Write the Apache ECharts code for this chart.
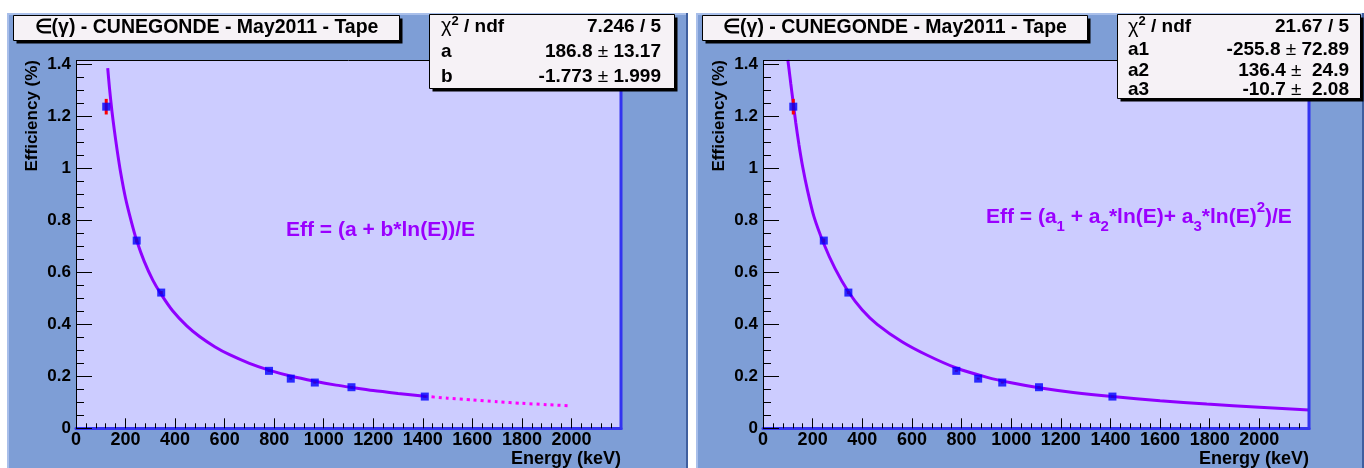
<!DOCTYPE html>
<html><head><meta charset="utf-8">
<script src="https://cdn.jsdelivr.net/npm/echarts@6/dist/echarts.min.js"></script>
<style>html,body{margin:0;padding:0;background:#fff}#c{width:1364px;height:468px}</style>
</head><body><div id="c"></div>
<script>
// ---------- data ----------
const titleText = '\u2208(\u03B3) - CUNEGONDE - May2011 - Tape';
const xAxisName = 'Energy (keV)';
const yAxisName = 'Efficiency (%)';
const xTickInterval = 200;
const yTickInterval = 0.2;

// measured points (keV, %)
const energies   = [122, 245, 344, 779, 867, 964, 1112, 1408];
const efficiency = [1.237, 0.722, 0.522, 0.221, 0.191, 0.176, 0.158, 0.122];
const effErrors  = [0.030, 0.008, 0.006, 0.004, 0.004, 0.004, 0.004, 0.004];

// left fit curve
const fitLeftE   = [128, 135, 145, 155, 166, 180, 200, 222, 245, 275, 310, 344, 390, 446, 500, 560, 620, 700, 779, 870, 964, 1050, 1112, 1200, 1300, 1408];
const fitLeftEff = [1.385, 1.31, 1.22, 1.145, 1.07, 0.985, 0.885, 0.80, 0.722, 0.643, 0.57, 0.515, 0.452, 0.395, 0.352, 0.314, 0.283, 0.250, 0.224, 0.200, 0.181, 0.166, 0.157, 0.145, 0.134, 0.123];
// left extrapolation (dotted)
const extLeftE   = [1408, 1500, 1600, 1700, 1800, 1900, 2000];
const extLeftEff = [0.123, 0.116, 0.109, 0.102, 0.096, 0.091, 0.086];

// right fit curve
const fitRightE   = [100, 105, 112, 120, 132, 145, 160, 180, 205, 245, 290, 344, 400, 460, 560, 660, 779, 900, 1000, 1112, 1250, 1408, 1600, 1788, 2000, 2200];
const fitRightEff = [1.417, 1.38, 1.325, 1.265, 1.175, 1.09, 1.005, 0.912, 0.815, 0.71, 0.615, 0.525, 0.455, 0.40, 0.333, 0.282, 0.232, 0.197, 0.175, 0.156, 0.138, 0.122, 0.106, 0.093, 0.081, 0.070];

// stats boxes
const statsLeftLabels  = ['chi', 'a', 'b'];
const statsLeftValues  = [['7.246 / 5'], ['186.8', '13.17'], ['-1.773', '1.999']];
const statsRightLabels = ['chi', 'a1', 'a2', 'a3'];
const statsRightValues = [['21.67 / 5'], ['-255.8', '72.89'], ['136.4', ' 24.9'], ['-10.7', ' 2.08']];

// ---------- style ----------
const FONT = '"Liberation Sans", Arial, Helvetica, sans-serif';
const PANEL = '#7e9ed6';
const PLOTBG = '#ccccff';
const BOXBG = '#f6f2f6';
const FRAMEBLUE = '#3333f0';
const FITCOL = '#8f00ff';
const TEXTPURPLE = '#9a00ff';

const chart = echarts.init(document.getElementById('c'), null, {renderer: 'canvas'});

const plots = [
  {left: 76, width: 545},
  {left: 763, width: 546}
];
const plotTop = 64.3, plotBottom = 428.3, frameTop = 60;

function pts(xs, ys) { return xs.map((x, i) => [x, ys[i]]); }

function xAxisCfg(i) {
  return {
    gridIndex: i, type: 'value', min: 0, max: 2200, interval: xTickInterval,
    axisLine: {show: true, onZero: false, lineStyle: {color: FRAMEBLUE, width: 3}},
    axisTick: {show: true, inside: true, length: 10, lineStyle: {color: '#000', width: 1}},
    minorTick: {show: true, splitNumber: 5, length: 5, lineStyle: {color: '#000', width: 1}},
    splitLine: {show: false},
    axisLabel: {show: true, showMaxLabel: false, color: '#000', fontSize: 18, fontWeight: 'bold', fontFamily: FONT, margin: 3,
      formatter: v => String(v)}
  };
}
function yAxisCfg(i) {
  return {
    gridIndex: i, type: 'value', min: 0, max: 1.4, interval: yTickInterval,
    axisLine: {show: true, lineStyle: {color: '#000', width: 1}},
    axisTick: {show: true, inside: true, length: 16, lineStyle: {color: '#000', width: 1}},
    minorTick: {show: true, splitNumber: 4, length: 8, lineStyle: {color: '#000', width: 1}},
    splitLine: {show: false},
    axisLabel: {show: true, color: '#000', fontSize: 17, fontWeight: 'bold', fontFamily: FONT, margin: 5,
      formatter: v => String(+v.toFixed(1))}
  };
}

function errorSeries(i) {
  return {
    type: 'custom', xAxisIndex: i, yAxisIndex: i, z: 3,
    data: energies.map((e, k) => [e, efficiency[k], effErrors[k]]),
    renderItem: function (params, api) {
      const x = api.value(0), y = api.value(1), e = api.value(2);
      const a = api.coord([x, y + e]), b = api.coord([x, y - e]);
      return {type: 'line', shape: {x1: a[0], y1: a[1], x2: b[0], y2: b[1]}, style: {stroke: '#ff0000', lineWidth: 3}};
    }
  };
}
function pointSeries(i) {
  return {
    type: 'scatter', xAxisIndex: i, yAxisIndex: i, z: 4,
    symbol: 'rect', symbolSize: 8,
    itemStyle: {color: '#0000ff', borderWidth: 0},
    data: pts(energies, efficiency)
  };
}

// ---------- decorations ----------
const graphics = [];
function panel(x0, x1) {
  graphics.push({type: 'rect', shape: {x: x0, y: 13, width: x1 - x0, height: 455}, style: {fill: PANEL}, z: -10});
  graphics.push({type: 'line', shape: {x1: x0 + 1, y1: 13, x2: x0 + 1, y2: 468}, style: {stroke: '#a9bfea', lineWidth: 2}, z: -9});
  graphics.push({type: 'line', shape: {x1: x0, y1: 14, x2: x1, y2: 14}, style: {stroke: '#a9bfea', lineWidth: 2}, z: -9});
  graphics.push({type: 'line', shape: {x1: x1 - 1, y1: 13, x2: x1 - 1, y2: 468}, style: {stroke: '#3f5f9f', lineWidth: 2}, z: -9});
}
panel(7, 688);
panel(696, 1364);

plots.forEach(p => {
  const r = p.left + p.width;
  graphics.push({type: 'rect', shape: {x: p.left, y: frameTop, width: p.width, height: plotBottom - frameTop}, style: {fill: PLOTBG}, z: -5});
  graphics.push({type: 'line', shape: {x1: p.left, y1: frameTop + 0.5, x2: r, y2: frameTop + 0.5}, style: {stroke: '#000', lineWidth: 1}, z: 5});
  graphics.push({type: 'line', shape: {x1: p.left + 0.5, y1: frameTop, x2: p.left + 0.5, y2: plotTop}, style: {stroke: '#000', lineWidth: 1}, z: 5});
  graphics.push({type: 'line', shape: {x1: r, y1: frameTop, x2: r, y2: plotBottom + 1.5}, style: {stroke: FRAMEBLUE, lineWidth: 3}, z: 5});
  // axis titles
  graphics.push({type: 'text', x: p.left - 44, y: frameTop, rotation: Math.PI / 2, z: 6,
    style: {text: yAxisName, x: 0, y: 0, align: 'right', verticalAlign: 'middle', fill: '#000', font: 'bold 17px ' + FONT}});
  graphics.push({type: 'text', x: r, y: 459, z: 6,
    style: {text: xAxisName, x: 0, y: 0, align: 'right', verticalAlign: 'middle', fill: '#000', font: 'bold 18px ' + FONT}});
});

function box(x, y, w, h) {
  graphics.push({type: 'rect', shape: {x: x + 3, y: y + 3, width: w, height: h}, style: {fill: '#000'}, z: 7});
  graphics.push({type: 'rect', shape: {x: x, y: y, width: w, height: h}, style: {fill: BOXBG, stroke: '#000', lineWidth: 1}, z: 8});
}
// title boxes
box(13.5, 15.5, 386, 25);
box(702.5, 15.5, 385, 25);
graphics.push({type: 'text', x: 206.5, y: 28, z: 9, style: {text: titleText, align: 'center', verticalAlign: 'middle', fill: '#000', font: 'bold 19.5px ' + FONT}});
graphics.push({type: 'text', x: 895, y: 28, z: 9, style: {text: titleText, align: 'center', verticalAlign: 'middle', fill: '#000', font: 'bold 19.5px ' + FONT}});

// stats boxes
const richStats = {
  b: {fontFamily: FONT, fontWeight: 'bold', fontSize: 19, fill: '#000', lineHeight: 24},
  chi: {fontFamily: FONT, fontWeight: 'normal', fontSize: 20, fill: '#000', lineHeight: 24},
  sup: {fontFamily: FONT, fontWeight: 'bold', fontSize: 13, fill: '#000', lineHeight: 13, verticalAlign: 'top'},
  pm: {fontFamily: FONT, fontWeight: 'normal', fontSize: 19, fill: '#000', lineHeight: 24}
};
function statsBox(x, y, w, h, labels, values, rows, lx, rx) {
  box(x, y, w, h);
  labels.forEach((lab, k) => {
    const txt = lab === 'chi' ? '{chi|\u03C7}{sup|2}{b| / ndf}' : '{b|' + lab + '}';
    graphics.push({type: 'text', x: lx, y: rows[k], z: 9, style: {text: txt, rich: richStats, align: 'left', verticalAlign: 'middle'}});
    const v = values[k];
    const vt = v.length === 1 ? '{b|' + v[0] + '}' : '{b|' + v[0] + '}{pm| \u00B1 }{b|' + v[1] + '}';
    graphics.push({type: 'text', x: rx, y: rows[k], z: 9, style: {text: vt, rich: richStats, align: 'right', verticalAlign: 'middle'}});
  });
}
statsBox(429.5, 14.5, 245, 74, statsLeftLabels, statsLeftValues, [26.5, 51.5, 76.5], 441, 661);
statsBox(1117.5, 14.5, 243, 84, statsRightLabels, statsRightValues, [27, 50, 71, 90], 1128, 1349);

// formulas
const richF = {
  m: {fontFamily: FONT, fontWeight: 'bold', fontSize: 21, fill: TEXTPURPLE, lineHeight: 34},
  sub: {fontFamily: FONT, fontWeight: 'bold', fontSize: 15, fill: TEXTPURPLE, lineHeight: 14, verticalAlign: 'bottom'},
  sup: {fontFamily: FONT, fontWeight: 'bold', fontSize: 15, fill: TEXTPURPLE, lineHeight: 14, verticalAlign: 'top'}
};
graphics.push({type: 'text', x: 286, y: 230, z: 9, style: {text: '{m|Eff = (a + b*ln(E))/E}', rich: richF, align: 'left', verticalAlign: 'middle'}});
graphics.push({type: 'text', x: 986, y: 217, z: 9, style: {
  text: '{m|Eff = (a}{sub|1}{m| + a}{sub|2}{m|*ln(E)+ a}{sub|3}{m|*ln(E)}{sup|2}{m|)/E}', rich: richF, align: 'left', verticalAlign: 'middle'}});

chart.setOption({
  animation: false,
  backgroundColor: '#ffffff',
  grid: plots.map(p => ({left: p.left, top: plotTop, width: p.width, height: plotBottom - plotTop, show: false})),
  xAxis: [xAxisCfg(0), xAxisCfg(1)],
  yAxis: [yAxisCfg(0), yAxisCfg(1)],
  graphic: graphics,
  series: [
    {type: 'line', xAxisIndex: 0, yAxisIndex: 0, z: 2, showSymbol: false, symbol: 'none', smooth: 0.25, clip: false,
      lineStyle: {color: FITCOL, width: 3}, data: pts(fitLeftE, fitLeftEff)},
    {type: 'line', xAxisIndex: 0, yAxisIndex: 0, z: 2, showSymbol: false, symbol: 'none', smooth: 0.25,
      lineStyle: {color: '#ff00ff', width: 3, type: [3, 4]}, data: pts(extLeftE, extLeftEff)},
    errorSeries(0), pointSeries(0),
    {type: 'line', xAxisIndex: 1, yAxisIndex: 1, z: 2, showSymbol: false, symbol: 'none', smooth: 0.25, clip: false,
      lineStyle: {color: FITCOL, width: 3}, data: pts(fitRightE, fitRightEff)},
    errorSeries(1), pointSeries(1)
  ]
});
</script></body></html>
